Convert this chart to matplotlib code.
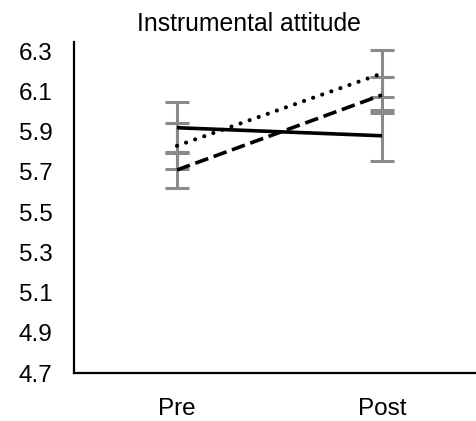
import matplotlib
matplotlib.use("Agg")
import matplotlib.pyplot as plt

plt.rcParams['font.family'] = ['Liberation Sans', 'DejaVu Sans']

# data
times = ["Pre", "Post"]
solid_vals = [5.92, 5.88]
solid_err = [0.126, 0.127]
dotted_vals = [5.83, 6.19]
dotted_err = [0.116, 0.116]
dashed_vals = [5.71, 6.083]
dashed_err = [0.09, 0.088]
yticks = [4.7, 4.9, 5.1, 5.3, 5.5, 5.7, 5.9, 6.1, 6.3]

fig = plt.figure(figsize=(4.76, 4.21), dpi=100)
ax = fig.add_axes([0.1565, 0.114, 0.8613, 0.787])

x = list(range(len(times)))
err_color = "#8a8a8a"
for vals, errs in [(solid_vals, solid_err), (dotted_vals, dotted_err), (dashed_vals, dashed_err)]:
    ax.errorbar(x, vals, yerr=errs, fmt="none", ecolor=err_color,
                elinewidth=2.2, capsize=8.5, capthick=2.2, zorder=1)

ax.plot(x, solid_vals, color="black", lw=2.6, solid_capstyle="butt", zorder=3)
ax.plot(x, dotted_vals, color="black", lw=3.0, linestyle=(0, (0.01, 2.3)),
        dash_capstyle="round", zorder=3)
ax.plot(x, dashed_vals, color="black", lw=2.6, linestyle=(0, (3.8, 1.6)),
        dash_capstyle="butt", zorder=3)

ax.set_xlim(-0.5, 1.5)
ax.set_ylim(4.7, 6.348)
ax.set_yticks(yticks)
ax.set_yticklabels([f"{t:.1f}" for t in yticks])
ax.set_xticks(x)
ax.set_xticklabels(times)
ax.tick_params(axis="both", length=0, labelsize=17.5)
ax.tick_params(axis="y", pad=16)
ax.tick_params(axis="x", pad=18)

for s in ["top", "right"]:
    ax.spines[s].set_visible(False)
for s in ["left", "bottom"]:
    ax.spines[s].set_linewidth(1.6)
    ax.spines[s].set_color("black")

fig.text(249 / 476, 1 - 24 / 421, "Instrumental attitude", ha="center", va="center", fontsize=17.8)

fig.savefig("out.png", dpi=100)
